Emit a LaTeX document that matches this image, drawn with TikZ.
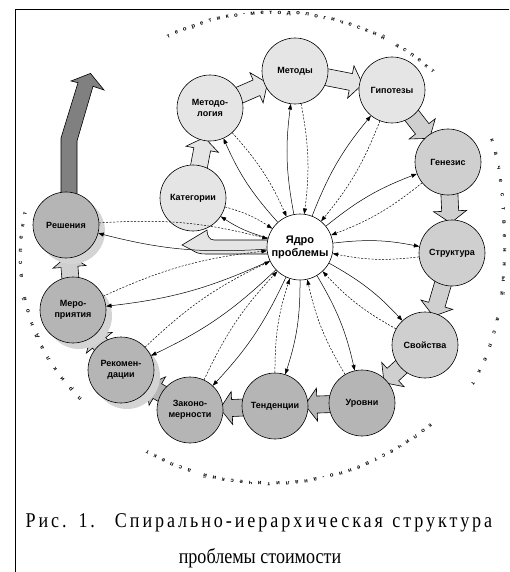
\documentclass[tikz,border=0pt]{standalone}
\usepackage{fontspec}
\setmainfont{Liberation Serif}
\setsansfont{Liberation Sans}
\newfontfamily\capfont[FakeStretch=0.86]{Liberation Serif}
\newfontfamily\capfontwide[FakeStretch=0.86,LetterSpace=14]{Liberation Serif}
\usetikzlibrary{calc}
\usetikzlibrary{shadows}
\usetikzlibrary{arrows.meta}
\usetikzlibrary{decorations.text}
\pgfdeclarelayer{background}
\pgfsetlayers{background,main}
\definecolor{lightfill}{gray}{0.9}
\definecolor{midfill}{gray}{0.81}
\definecolor{darkfill}{gray}{0.71}
\definecolor{shadowfill}{gray}{0.83}
\definecolor{exitfill}{gray}{0.5}
\tikzset{stage/.style={circle,draw,line width=0.6pt,minimum size=66pt,inner sep=0pt,align=center,
		font=\sffamily\bfseries\fontsize{9}{11}\selectfont},
	shadowed/.style={drop shadow={shadow xshift=6pt,shadow yshift=-6pt,fill=shadowfill,opacity=1}},
	corelink/.style={-{Triangle[length=5.5pt,width=4pt]},line width=0.5pt},
	blockline/.style={draw,line width=0.6pt,line join=miter},
	aspect/.style={decorate,decoration={text along path,text align={fit to path},
		text={|\sffamily\bfseries\fontsize{6}{6}\selectfont|#1}}}}
% fat arrow from one stage to the next
\newcommand{\stagearrow}[3]{%
	\coordinate (tipA) at ($(#2)!30pt!(#1)$);
	\coordinate (baseA) at ($(tipA)!12pt!(#1)$);
	\draw[blockline,fill=#3]
	($(#1)!8.5pt!90:(tipA)$) -- ($(baseA)!8.5pt!-90:(#1)$) -- ($(baseA)!16.5pt!-90:(#1)$) -- (tipA)
	-- ($(baseA)!16.5pt!90:(#1)$) -- ($(baseA)!8.5pt!90:(#1)$) -- ($(#1)!8.5pt!-90:(tipA)$) -- cycle;}

\begin{document}
\begin{tikzpicture}[x=1pt,y=1pt]
	\useasboundingbox (0,0) rectangle (509,-572);
	\clip (0,0) rectangle (509,-572);
	\draw[line width=1.6pt] (15.5,-9.5) rectangle (540,-600);
	
	\node[circle,draw,fill=white,line width=0.6pt,minimum size=66pt,inner sep=0pt,align=center,
	font=\sffamily\bfseries\fontsize{11}{13}\selectfont] (core) at (300,-247) {Ядро\\проблемы};
	\begin{scope}[every node/.style={stage,fill=lightfill}]
		\node (cat) at (193,-198) {Категории};
		\node (metodol) at (210,-108) {Методо-\\логия};
		\node (metody) at (295,-71) {Методы};
		\node (gipot) at (392,-90) {Гипотезы};
	\end{scope}
	\begin{scope}[every node/.style={stage,fill=midfill}]
		\node (genez) at (448,-162) {Генезис};
		\node (strukt) at (452,-253) {Структура};
		\node (svoistva) at (425,-345) {Свойства};
	\end{scope}
	\begin{scope}[every node/.style={stage,fill=darkfill}]
		\node (urovni) at (362,-403) {Уровни};
		\node (tend) at (275,-406) {Тенденции};
		\node (zakon) at (190,-410) {Законо-\\мерности};
		\node[shadowed] (rekom) at (121,-370) {Рекомен-\\дации};
		\node[shadowed] (merop) at (73,-310) {Меро-\\приятия};
		\node[shadowed] (resh) at (66,-225) {Решения};
	\end{scope}
	
	\begin{pgfonlayer}{background}
		\stagearrow{cat}{metodol}{lightfill}
		\stagearrow{metodol}{metody}{lightfill}
		\stagearrow{metody}{gipot}{lightfill}
		\stagearrow{gipot}{genez}{midfill}
		\stagearrow{genez}{strukt}{midfill}
		\stagearrow{strukt}{svoistva}{midfill}
		\stagearrow{svoistva}{urovni}{midfill}
		\stagearrow{urovni}{tend}{darkfill}
		\stagearrow{tend}{zakon}{darkfill}
		\stagearrow{zakon}{rekom}{darkfill}
		\stagearrow{rekom}{merop}{midfill}
		\stagearrow{merop}{resh}{midfill}
		% way out of the spiral
		\draw[blockline,fill=exitfill] (61,-225) -- (61,-138) -- (78,-82.7) -- (71,-81)
		-- (90.5,-73.4) -- (104,-90) -- (93,-86.3) -- (77,-141) -- (77,-225) -- cycle;
		% back from the core to the categories
		\draw[blockline,fill=lightfill] (core.center) ++(0,7) -- (214,-240)
		.. controls (209,-240) and (207,-235) .. (207,-230) -- (182,-245) -- (192,-250)
		.. controls (196,-253) and (200,-254) .. (206,-254) -- ($(core.center)+(0,-7)$) -- cycle;
	\end{pgfonlayer}
	
	\foreach \stage in {cat,metodol,metody,gipot,genez,strukt,svoistva,urovni,tend,zakon,rekom,merop,resh}{
		\draw[corelink] (core) to[bend left=9] (\stage);
		\draw[corelink,dash pattern=on 2pt off 1.5pt] (\stage) to[bend left=9] (core);
	}
	
	\path[aspect=теоретико-методологический аспект] (274,-256) ++(116:242) arc[start angle=116,end angle=49,radius=242];
	\path[aspect=качественный аспект] (490,-140) .. controls (500,-168) and (503,-210) .. (503,-250)
	.. controls (503,-300) and (494,-345) .. (471,-384);
	\path[aspect=количественно-аналитический аспект] (269,-231) ++(-50:251) arc[start angle=-50,end angle=-119,radius=251];
	\path[aspect=прикладной аспект] (219,-257) ++(226:197) arc[start angle=226,end angle=167,radius=197];
	
	\node[anchor=base west,font=\capfontwide\fontsize{21}{24}\selectfont] (capA) at (22,-527)
	{Рис.\hspace{2pt} 1.\hspace{10pt} Спирально-иерархическая\hspace{2pt} структура};
	\node[anchor=base,font=\capfont\fontsize{21}{24}\selectfont] (capB) at (260,-563) {проблемы стоимости};
\end{tikzpicture}
\end{document}
